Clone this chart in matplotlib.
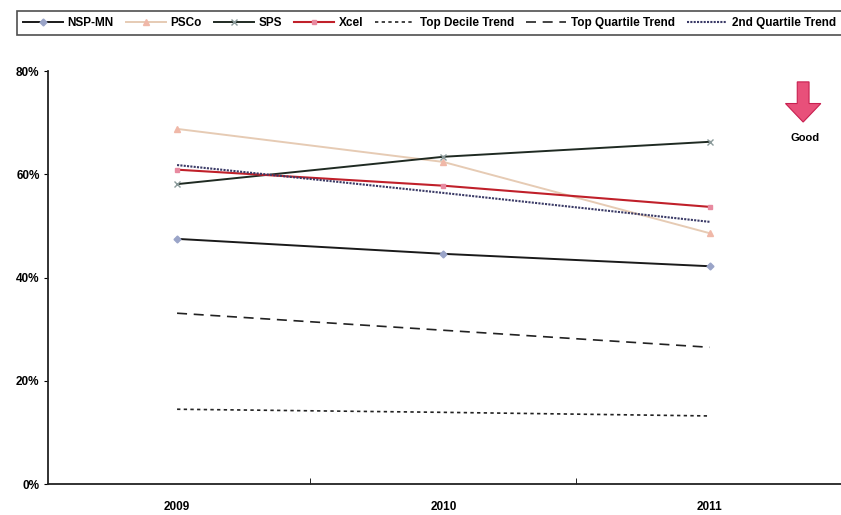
import matplotlib.pyplot as plt
from matplotlib.ticker import PercentFormatter
from matplotlib.patches import FancyArrow

years = ["2009", "2010", "2011"]
nsp_mn = [47.5, 44.6, 42.2]
psco = [68.8, 62.4, 48.6]
sps = [58.1, 63.4, 66.3]
xcel = [60.9, 57.8, 53.7]
top_decile = [14.5, 13.9, 13.2]
top_quartile = [33.1, 29.8, 26.5]
second_quartile = [61.8, 56.4, 50.8]

plt.rcParams['font.family'] = ['Liberation Sans', 'DejaVu Sans']
plt.rcParams['font.weight'] = 'bold'

fig = plt.figure(figsize=(8.41, 5.15), dpi=100)
ax = fig.add_axes([0.057, 0.06, 0.945, 0.802])
x = range(len(years))

ax.plot(x, nsp_mn, color="#1a1a1a", lw=1.4, marker="D", ms=3.5, mfc="#9aa4c8", mec="#9aa4c8", label="NSP-MN")
ax.plot(x, psco, color="#e6cbb4", lw=1.4, marker="^", ms=4.5, mfc="#f0b8a8", mec="#f0b8a8", label="PSCo")
ax.plot(x, sps, color="#1f2a22", lw=1.4, marker="x", ms=5, mec="#8a9a9a", label="SPS")
ax.plot(x, xcel, color="#c0202a", lw=1.5, marker="s", ms=3.5, mfc="#e88aa0", mec="#e88aa0", label="Xcel")
ax.plot(x, top_decile, color="#222222", lw=1.2, ls=(0, (2, 2)), label="Top Decile Trend")
ax.plot(x, top_quartile, color="#222222", lw=1.2, ls=(0, (6, 4)), label="Top Quartile Trend")
ax.plot(x, second_quartile, color="#3a3a66", lw=1.5, ls=(0, (1, 0.6)), label="2nd Quartile Trend")

ax.set_xlim(-0.485, 2.5)
ax.set_ylim(0, 80)
ax.set_xticks(x)
ax.set_xticklabels(years, fontsize=8.5)
ax.set_xticks([0.5, 1.5], minor=True)
ax.tick_params(axis="x", which="major", length=0, pad=12)
ax.tick_params(axis="x", which="minor", length=4, direction="in")
ax.set_yticks([0, 20, 40, 60, 80])
ax.yaxis.set_major_formatter(PercentFormatter(decimals=0))
ax.tick_params(axis="y", labelsize=8.5, length=3, pad=3)
for side in ["top", "right"]:
    ax.spines[side].set_visible(False)
for side in ["left", "bottom"]:
    ax.spines[side].set_linewidth(1.3)
    ax.spines[side].set_color("#222222")

leg = fig.legend(loc="lower left", bbox_to_anchor=(0.013, 0.92, 0.995, 0.05), mode="expand", ncol=7,
                 frameon=True, fontsize=8.5, handlelength=3.4, handletextpad=0.4,
                 borderpad=0.5, fancybox=False, edgecolor="#222222")
leg.get_frame().set_linewidth(1.2)

# "Good" direction arrow
arrow = FancyArrow(0.955, 0.841, 0, -0.078, width=0.014, head_width=0.042, head_length=0.036,
                   length_includes_head=True, transform=fig.transFigure,
                   facecolor="#e8507a", edgecolor="#c82050", lw=0.8)
fig.patches.append(arrow)
fig.text(0.957, 0.733, "Good", fontsize=8, ha="center", va="center")

fig.savefig("out.png", dpi=100)
